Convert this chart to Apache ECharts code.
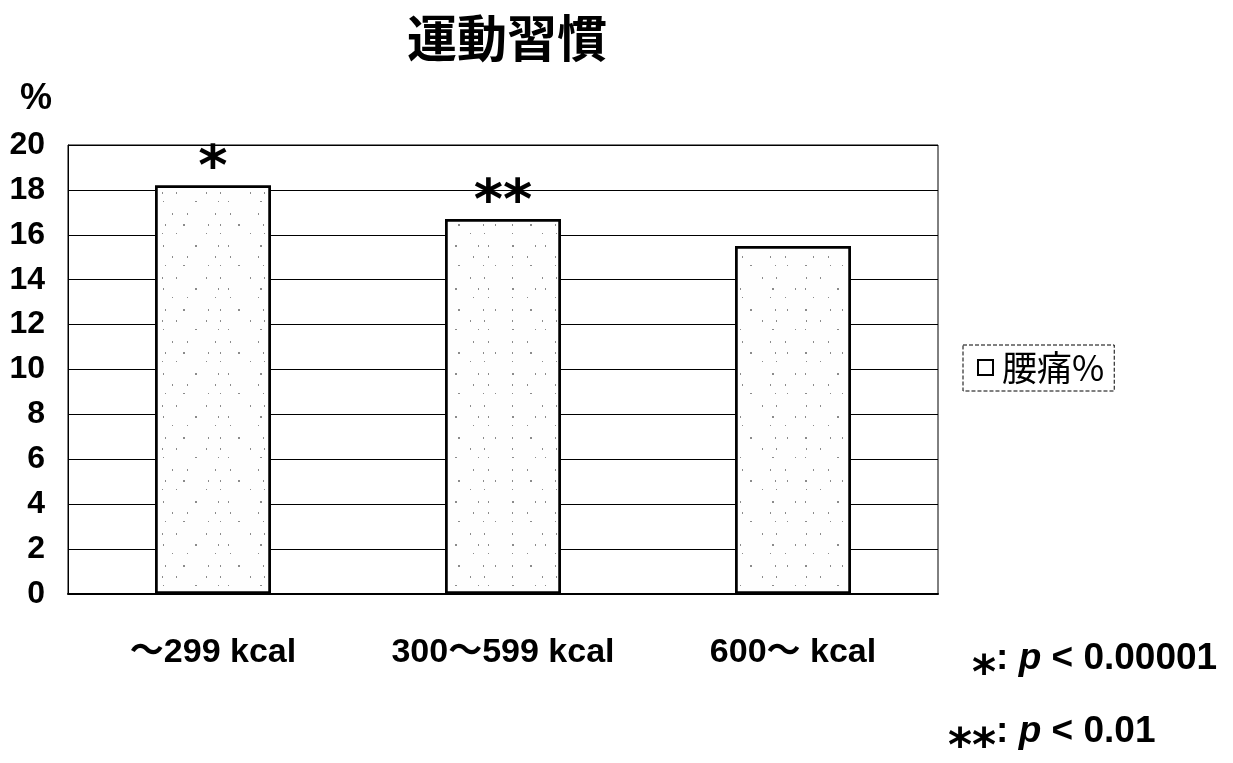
<!DOCTYPE html>
<html>
<head>
<meta charset="utf-8">
<script src="https://cdn.jsdelivr.net/npm/echarts@6/dist/echarts.min.js"></script>
<style>
  html, body { margin: 0; padding: 0; background: #fff; }
  #chart { width: 1233px; height: 763px; }
</style>
</head>
<body>
<div id="chart"></div>
<script>
// Exercise habit vs. low back pain rate
const categories = ['～299 kcal', '300～599 kcal', '600～ kcal'];
const lowBackPain = [18.2, 16.7, 15.5];
const significance = ['*', '**', ''];
const yTicks = [0, 2, 4, 6, 8, 10, 12, 14, 16, 18, 20];
const seriesName = '腰痛%';

const FONT = '"Liberation Sans", Arial, "Noto Sans CJK JP", sans-serif';
const CJK = '"Noto Sans CJK JP", sans-serif';
const STAR = '"DejaVu Sans", sans-serif';
const chart = echarts.init(document.getElementById('chart'));

const noteRich = {
  s: { fontFamily: STAR, fontWeight: 'bold', fontSize: 46, fill: '#000', padding: [36, 0, 0, 0] },
  t: { fontFamily: FONT, fontWeight: 'bold', fontSize: 37, fill: '#000' },
  p: { fontFamily: FONT, fontWeight: 'bold', fontStyle: 'italic', fontSize: 37, fill: '#000' }
};

chart.setOption({
  backgroundColor: '#fff',
  animation: false,
  title: {
    text: '運動習慣',
    left: 502, top: 8, textAlign: 'center',
    textStyle: { fontFamily: CJK, fontWeight: 'bold', fontSize: 50, color: '#000' }
  },
  legend: {
    data: [seriesName],
    orient: 'vertical',
    left: 963, top: 345,
    padding: [5, 10, 6, 14],
    borderColor: '#000', borderWidth: 1, borderType: 'dashed',
    itemWidth: 15, itemHeight: 15, itemGap: 8,
    icon: 'rect',
    itemStyle: { color: '#fff', borderColor: '#000', borderWidth: 2, decal: 'none' },
    textStyle: { fontFamily: CJK, fontSize: 35, color: '#000', padding: [0, 0, 0, 4] }
  },
  grid: { left: 68, right: 295, top: 145, bottom: 169, show: true, borderColor: '#000', borderWidth: 1, backgroundColor: 'transparent' },
  xAxis: {
    type: 'category', data: categories,
    axisLine: { lineStyle: { color: '#000', width: 2 } },
    axisTick: { show: false },
    axisLabel: { interval: 0, margin: 42, fontFamily: FONT, fontWeight: 'bold', fontSize: 34, color: '#000' }
  },
  yAxis: {
    type: 'value', min: yTicks[0], max: yTicks[yTicks.length - 1], interval: 2,
    name: '%', nameLocation: 'end', nameGap: 28,
    nameTextStyle: { fontFamily: FONT, fontWeight: 'bold', fontSize: 36, color: '#000', align: 'right', padding: [0, 16, 0, 0] },
    axisLine: { show: true, lineStyle: { color: '#000' } },
    axisTick: { show: false },
    splitLine: { lineStyle: { color: '#000', width: 1 } },
    axisLabel: { margin: 23, fontFamily: FONT, fontWeight: 'bold', fontSize: 32, color: '#000' }
  },
  series: [{
    name: seriesName, type: 'bar', barWidth: '40%',
    data: lowBackPain,
    itemStyle: {
      color: '#fefefe', borderColor: '#000', borderWidth: 2.5,
      decal: {
        symbol: 'rect', symbolSize: 1, color: 'rgba(0,0,0,0.45)',
        dashArrayX: [[1, 17, 2, 23, 1, 11], [1, 29, 1, 13], [2, 21, 1, 9, 1, 31], [1, 14, 1, 27]],
        dashArrayY: [2, 7, 1, 11, 2, 9],
        rotation: 0
      }
    },
    label: {
      show: true, position: 'top', distance: -12,
      formatter: p => significance[p.dataIndex],
      fontFamily: STAR, fontWeight: 'bold', fontSize: 56, color: '#000'
    }
  }],
  graphic: [
    { type: 'text', left: 972, top: 640, style: { text: '{s|*}{t|: }{p|p}{t| < 0.00001}', rich: noteRich } },
    { type: 'text', left: 948, top: 713, style: { text: '{s|**}{t|: }{p|p}{t| < 0.01}', rich: noteRich } }
  ]
});
</script>
</body>
</html>
